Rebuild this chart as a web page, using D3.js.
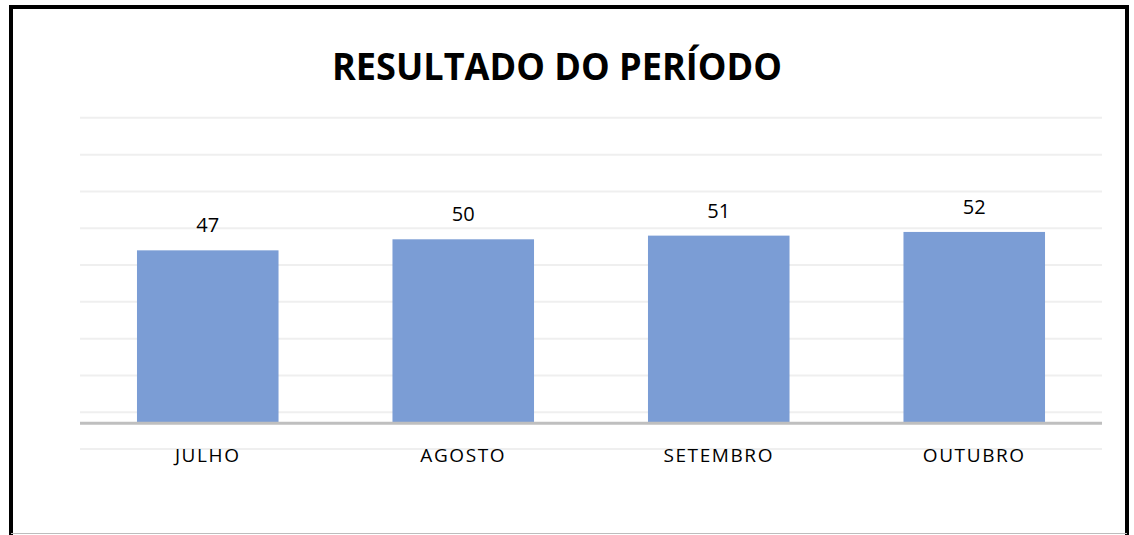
<!DOCTYPE html>
<html>
<head>
<meta charset="utf-8">
<script src="https://cdn.jsdelivr.net/npm/d3@7"></script>
<style>
  body { margin: 0; background: #fff; }
  text { font-family: "Open Sans", "Noto Sans", sans-serif; }
</style>
</head>
<body>
<div id="chart"></div>
<script>
// Data
var months = ["JULHO", "AGOSTO", "SETEMBRO", "OUTUBRO"];
var values = [47, 50, 51, 52];
var gridValues = [-7, 3, 13, 23, 33, 43, 53, 63, 73, 83];
var title = "RESULTADO DO PERÍODO";

var svgWidth = 1134;
var svgHeight = 535;

var svg = d3.select("#chart")
  .append("svg")
  .attr("width", svgWidth)
  .attr("height", svgHeight);

// outer frame
svg.append("rect")
  .attr("x", 11).attr("y", 7)
  .attr("width", 1116).attr("height", 540)
  .attr("fill", "#fff")
  .attr("stroke", "#000")
  .attr("stroke-width", 4);

svg.append("line")
  .attr("x1", 11).attr("x2", 1127)
  .attr("y1", 533.5).attr("y2", 533.5)
  .attr("stroke", "#bdbdbd")
  .attr("stroke-width", 1);

// scales
var x = d3.scaleBand()
  .domain(months)
  .range([80, 1102])
  .paddingInner(0.446)
  .paddingOuter(0.223);

var y = d3.scaleLinear()
  .domain([0, 100])
  .range([423.3, 55.3]);

// gridlines
svg.append("g")
  .selectAll("line")
  .data(gridValues)
  .enter()
  .append("line")
  .attr("x1", 80).attr("x2", 1102)
  .attr("y1", d => y(d)).attr("y2", d => y(d))
  .attr("stroke", "#efefef")
  .attr("stroke-width", 2);

// bars
svg.append("g")
  .selectAll("rect")
  .data(values)
  .enter()
  .append("rect")
  .attr("x", (d, i) => x(months[i]))
  .attr("y", d => y(d))
  .attr("width", x.bandwidth())
  .attr("height", d => y(0) - y(d))
  .attr("fill", "#7b9dd5");

// baseline
svg.append("line")
  .attr("x1", 80).attr("x2", 1102)
  .attr("y1", y(0)).attr("y2", y(0))
  .attr("stroke", "#bfbfbf")
  .attr("stroke-width", 3);

// value labels
svg.append("g")
  .selectAll("text")
  .data(values)
  .enter()
  .append("text")
  .attr("x", (d, i) => x(months[i]) + x.bandwidth() / 2)
  .attr("y", d => y(d) - 18)
  .attr("text-anchor", "middle")
  .attr("font-size", 20)
  .attr("fill", "#000")
  .text(d => d);

// category labels
svg.append("g")
  .selectAll("text")
  .data(months)
  .enter()
  .append("text")
  .attr("x", d => x(d) + x.bandwidth() / 2)
  .attr("y", 462)
  .attr("text-anchor", "middle")
  .attr("font-size", 19)
  .attr("letter-spacing", 1.6)
  .attr("fill", "#000")
  .text(d => d);

// title
svg.append("text")
  .attr("x", 557)
  .attr("y", 80)
  .attr("text-anchor", "middle")
  .attr("font-size", 37)
  .attr("font-weight", "bold")
  .attr("textLength", 450)
  .attr("lengthAdjust", "spacingAndGlyphs")
  .attr("fill", "#000")
  .text(title);
</script>
</body>
</html>
